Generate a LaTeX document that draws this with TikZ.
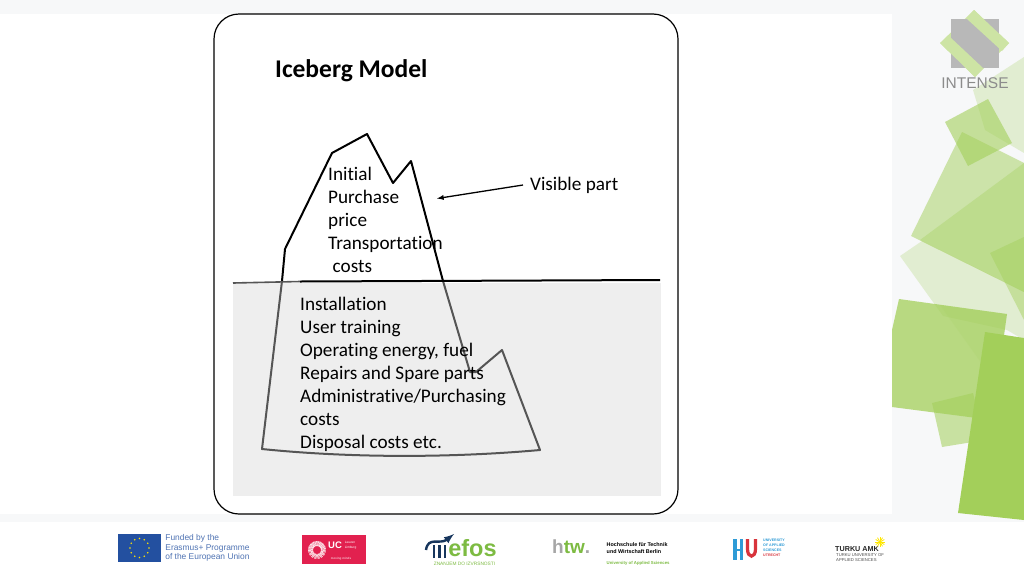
\documentclass[tikz,border=0pt]{standalone}
\usepackage{fontspec}
\setmainfont[Ligatures=NoCommon]{Carlito}
\newfontfamily\logofont{Liberation Sans}
\usetikzlibrary{positioning}
\definecolor{pagegrey}{HTML}{F7F8F9}
\definecolor{seagrey}{HTML}{EEEEEE}
\definecolor{bergline}{HTML}{555555}
\definecolor{leaf}{HTML}{A3CF5A}
\definecolor{euBlue}{HTML}{2350A0}
\definecolor{ucRed}{HTML}{E2214F}
\definecolor{efosNavy}{HTML}{17365D}
\definecolor{efosGreen}{HTML}{7DBB42}
\definecolor{huBlue}{HTML}{2E9BD6}
\definecolor{huRed}{HTML}{D8343C}
\tikzstyle{iceberg_style}=[
	x=1pt,y=-1pt,
	body/.style={font=\fontsize{19.2}{23}\selectfont,align=left,inner sep=0pt,anchor=north west},
	title/.style={font=\fontsize{25.5}{28}\selectfont\bfseries,inner sep=0pt,anchor=west},
	logotext/.style={font=\logofont\fontsize{8.4}{9.5}\selectfont,align=left,inner sep=0pt,anchor=west},
	berg_edge/.style={line width=2pt,line join=round},
	under_edge/.style={line width=2pt,line join=round,draw=bergline},
	patch/.style={fill=leaf,draw=none}
]
\begin{document}
\begin{tikzpicture}[iceberg_style]

		% page
		\fill[pagegrey] (0,0) rectangle (1024,576);
		\fill[white] (0,14) rectangle (892,514);
		\fill[white] (0,522) rectangle (1024,576);

		% green patches
		\begin{scope}
		\clip (892,0) rectangle (1024,520);
		\path[patch,opacity=.25] (973,90) -- (1024,57) -- (1024,153) -- (985,130) -- cycle;
		\path[patch,opacity=.25] (900,256) -- (922,241) -- (1024,292) -- (1024,340) -- (1007,330) -- (943,316) -- cycle;
		\path[patch,opacity=.50] (962,132) -- (1024,163) -- (1024,292) -- (911,236) -- cycle;
		\path[patch,opacity=.35] (920,240) -- (1024,163) -- (1024,292) -- cycle;
		\path[patch,opacity=.60] (945,122) -- (988,99) -- (1012,143) -- (968,166) -- cycle;
		\path[patch,opacity=.45] (990,253) -- (1024,237) -- (1024,320) -- cycle;
		\path[patch,opacity=.55] (932,403) -- (973,393) -- (985,440) -- (942,447) -- cycle;
		\path[patch,opacity=.75] (899,299) -- (1007,314) -- (992,420) -- (892,407) -- (892,330) -- cycle;
		\path[patch,opacity=.15] (940,305) -- (1007,314) -- (997,385) -- cycle;
		\path[patch,fill opacity=1] (985,332) -- (1024,338) -- (1024,520) -- (958,513) -- cycle;
		\end{scope}

		% logo top right
		\fill[leaf!55] (974,10) -- (1009,43) -- (975,77) -- (940,43) -- cycle;
		\fill[black!28] (951,19) rectangle (999,68);
		\fill[leaf!55] (974,10) -- (1009,43) -- (1002,51) -- (967,19) -- cycle;
		\fill[leaf!55] (940,43) -- (975,77) -- (983,68) -- (950,37) -- cycle;
		\node[font=\logofont\fontsize{15.5}{16}\selectfont,text=black!45,inner sep=0pt] (intenselogo) at (975,83) {INTENSE};

		% card
		\draw[fill=white,line width=1.2pt,rounded corners=25pt] (214,14) rectangle (678,514);
		\fill[seagrey] (233,283) rectangle (661,496);
		\node[title] (title) at (275,70.5) {Iceberg Model};

		% iceberg
		\draw[berg_edge] (282,281) -- (285,249) -- (332,153) -- (367,134) -- (393,183) -- (411,161) -- (443,281);
		\draw[under_edge] (282,281) -- (262,449) .. controls (350,458) and (450,458) .. (540,450) -- (502,350) -- (476,372) -- (470,372) -- (443,281);
		\draw[line width=1.6pt,draw=bergline] (233,283) -- (300,281.5);
		\draw[line width=2pt] (300,281.5) -- (660,280);

		\node[body] (top) at (328,167) {Initial\\Purchase\\price\\Transportation\\\hspace{4.5pt}costs};
		\node[body] (bottom) at (300,297) {Installation\\User training\\Operating energy, fuel\\Repairs and Spare parts\\Administrative/Purchasing\\costs\\Disposal costs etc.};
		\node[body,anchor=west] (visible) at (530,185) {Visible part};
		\coordinate (tip) at (437,198.5);
		\draw[-latex,line width=1.3pt] (visible.west) ++(-7,0) -- (tip);

		% footer logos
		\node[fill=euBlue,minimum width=43pt,minimum height=28pt,inner sep=0pt] (euflag) at (139.5,548) {};
		\foreach \a in {0,30,...,330}
			\fill[yellow!85!orange] (euflag.center) ++(\a:9.5) circle (.9);
		\node[logotext,text=euBlue!80,right=4pt of euflag] (eutext) {Funded by the\\Erasmus+ Programme\\of the European Union};

		\node[fill=ucRed,minimum width=64pt,minimum height=29pt,inner sep=0pt] (uc) at (334,549.5) {};
		\draw[white!85!ucRed,line width=5pt,dash pattern=on .8pt off .5pt] (317,550) circle (6.5);
		\node[font=\logofont\bfseries\fontsize{9.5}{10}\selectfont,text=white,inner sep=0pt] (uctext) at (335,545.5) {UC};
		\node[font=\logofont\fontsize{3.2}{4.6}\selectfont,text=white,align=left,inner sep=0pt,right=2.5pt of uctext] (ucname) {Leuven\\Limburg};
		\node[font=\logofont\bfseries\fontsize{3}{3}\selectfont,text=white!70!ucRed,inner sep=0pt] (ucmotto) at (341,559) {moving minds};

		\draw[efosNavy,line width=2.6pt] (434,558) -- (434,545);
		\draw[efosNavy,line width=2.6pt] (439.5,558) -- (439.5,545);
		\draw[efosNavy,line width=2.6pt] (445,558) -- (445,545);
		\draw[efosNavy,line width=2.4pt,-latex] (426,550) .. controls (428,536) and (440,545) .. (454,534);
		\node[font=\logofont\bfseries\fontsize{23.5}{23.5}\selectfont,text=efosGreen,inner sep=0pt] (efos) at (472.5,548) {efos};
		\node[font=\logofont\fontsize{4.8}{4.8}\selectfont,text=efosGreen,inner sep=0pt] (efosline) at (464.5,563.5) {ZNANJEM DO IZVRSNOSTI};

		\node[font=\logofont\bfseries\fontsize{19}{19}\selectfont,inner sep=0pt,anchor=west] (htw) at (552,546.5) {\textcolor{black!35}{h}\textcolor{efosGreen}{tw}\textcolor{black!35}{.}};
		\node[font=\logofont\bfseries\fontsize{5.4}{7}\selectfont,align=left,inner sep=0pt,anchor=west] (htwname) at (606.5,548.5) {Hochschule für Technik\\und Wirtschaft Berlin};
		\node[font=\logofont\bfseries\fontsize{4.3}{5}\selectfont,text=efosGreen,inner sep=0pt,anchor=west] (htwline) at (606.5,563) {University of Applied Sciences};

		\fill[huBlue] (733,539) rectangle (736.5,560);
		\fill[huBlue] (739.5,539) rectangle (743,560);
		\fill[huBlue] (736.5,548.5) rectangle (739.5,551);
		\draw[huRed,line width=3.2pt] (747.5,539) -- (747.5,549) .. controls (747.5,558.5) and (755.5,558.5) .. (755.5,549) -- (755.5,539);
		\node[font=\logofont\bfseries\fontsize{3.6}{4.9}\selectfont,text=huBlue,align=left,inner sep=0pt,anchor=north west] (hutext) at (763,539) {UNIVERSITY\\OF APPLIED\\SCIENCES\\\textcolor{huRed}{UTRECHT}};

		\node[font=\logofont\bfseries\fontsize{7.2}{7.2}\selectfont,text=black!85,inner sep=0pt,anchor=west] (turku) at (835,549) {TURKU AMK};
		\node[font=\logofont\fontsize{4.2}{4.4}\selectfont,text=black!70,align=left,inner sep=0pt,anchor=north west] (turkuline) at (836,553.5) {TURKU UNIVERSITY OF\\APPLIED SCIENCES};
		\foreach \a in {0,30,...,330}
			\draw[yellow!90!orange,line width=.8pt] (880,542) -- ++(\a:5);

\end{tikzpicture}
\end{document}
